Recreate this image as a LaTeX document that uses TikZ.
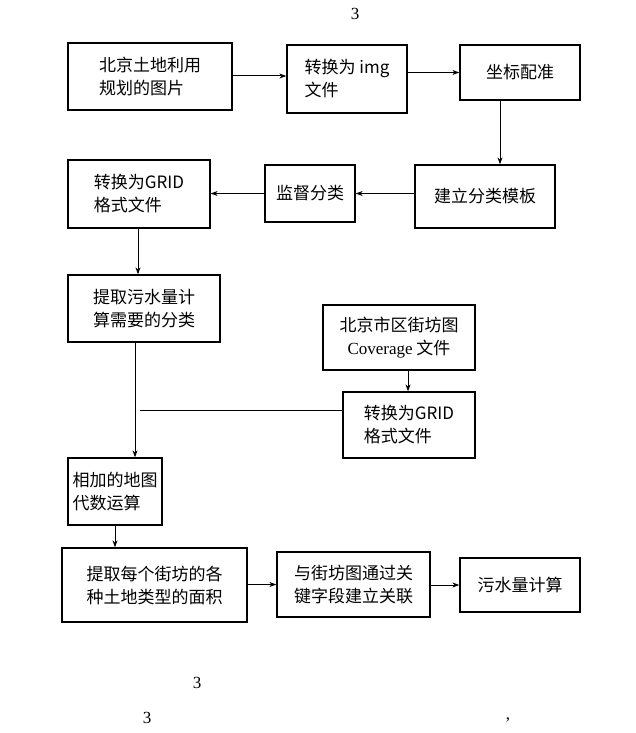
\documentclass[tikz,border=0pt]{standalone}
\usepackage{fontspec}
\setmainfont{Liberation Serif}
\newfontfamily\cjk{Noto Sans CJK SC}
\usetikzlibrary{arrows.meta}
\begin{document}
\begin{tikzpicture}[x=1pt,y=-1pt,
  box/.style={draw,line width=1.3pt,align=left,font=\cjk\fontsize{17}{23}\selectfont,inner sep=0pt},
  arr/.style={line width=1pt,-{Stealth[length=7pt,width=5pt]}},
  lbl/.style={font=\fontsize{17}{20}\selectfont}]
\useasboundingbox (0,0) rectangle (635,733);
\newcommand\bx[6]{\node[box,minimum width={#4-#2},minimum height={#5-#3}] (#1) at ({(#2+#4)/2},{(#3+#5)/2}) {#6};}
\bx{a}{68}{43}{232}{110}{北京土地利用\\规划的图片}
\bx{b}{287}{45}{407}{113}{转换为 img\\文件}
\bx{c}{460}{45}{580}{100}{坐标配准}
\bx{d}{415}{165}{555}{228}{建立分类模板}
\bx{e}{265}{165}{355}{222}{监督分类}
\bx{f}{68}{160}{210}{228}{转换为GRID\\格式文件}
\bx{g}{68}{275}{220}{342}{提取污水量计\\算需要的分类}
\node[box,align=center,minimum width=152,minimum height=65] (h) at (399,337.5) {北京市区街坊图\\{\fontspec{Liberation Serif}Coverage} 文件};
\bx{i}{343}{392}{475}{458}{转换为GRID\\格式文件}
\bx{j}{68}{458}{162}{525}{相加的地图\\代数运算}
\bx{k}{62}{548}{247}{622}{提取每个街坊的各\\种土地类型的面积}
\bx{l}{277}{552}{430}{617}{与街坊图通过关\\键字段建立关联}
\bx{m}{460}{558}{580}{612}{污水量计算}
\coordinate (ab) at (0,76);
\draw[arr] (a.east|-ab) -- (b.west|-ab);
\draw[arr] (b.east|-c) -- (c);
\draw[arr] (c.south-|500,0) -- (d.north-|500,0);
\draw[arr] (d.west|-e) -- (e);
\draw[arr] (e) -- (f.east|-e);
\draw[arr] (f.south-|138,0) -- (g.north-|138,0);
\draw[arr] (g.south-|135,0) -- (j.north-|135,0);
\coordinate (jn) at (140,410);
\draw[line width=0.8pt] (i.west|-jn) -- (jn);
\draw[arr] (h.south-|408,0) -- (i.north-|408,0);
\draw[arr] (j.south-|115,0) -- (k.north-|115,0);
\draw[arr] (k.east|-l) -- (l);
\draw[arr] (l.east|-m) -- (m);
\node[lbl] (t1) at (355,14) {3};
\node[lbl] (t2) at (197,683) {3};
\node[lbl] (t3) at (147,718) {3};
\node[lbl] (t4) at (508,720) {,};
\end{tikzpicture}
\end{document}
